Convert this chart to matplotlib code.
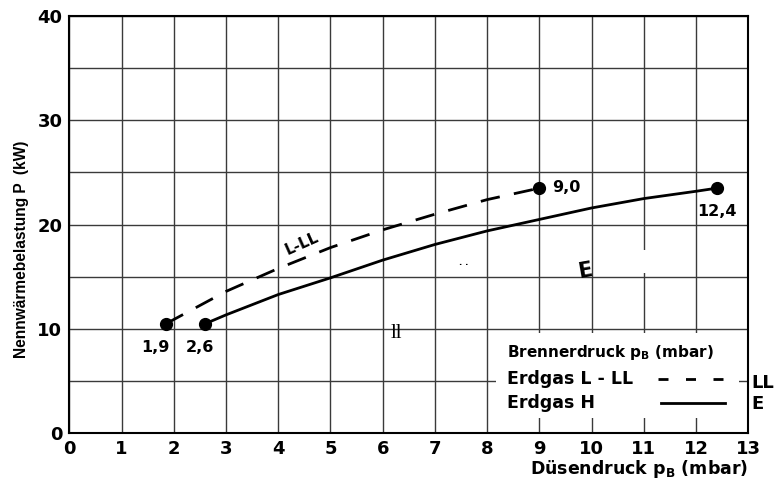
import matplotlib
matplotlib.use('Agg')
import matplotlib.pyplot as plt
import matplotlib.patches as patches

# Erdgas L - LL (dashed) and Erdgas H (solid), nozzle pressure vs. heat load
ll_p = [1.85, 3, 4, 5, 6, 7, 8, 9.0]
ll_P = [10.5, 13.6, 15.8, 17.8, 19.5, 21.0, 22.4, 23.5]
h_p = [2.6, 3, 4, 5, 6, 7, 8, 9, 10, 11, 12, 12.4]
h_P = [10.5, 11.35, 13.3, 14.9, 16.6, 18.1, 19.4, 20.5, 21.6, 22.5, 23.2, 23.5]
ll_labels = ['1,9', '9,0']
h_labels = ['2,6', '12,4']
x_ticks = list(range(0, 14))
y_ticks = [0, 10, 20, 30, 40]
y_minor = [5, 15, 25, 35]

plt.rcParams['font.family'] = ['DejaVu Sans']
plt.rcParams['font.weight'] = 'bold'
plt.rcParams['mathtext.fontset'] = 'custom'
plt.rcParams['mathtext.rm'] = 'DejaVu Sans:bold'

W, H = 778, 483
fig = plt.figure(figsize=(W / 100, H / 100), dpi=100)
ax = fig.add_axes([69.3 / W, 1 - 433.3 / H, 679 / W, 417.3 / H])
ax.set_xlim(0, 13)
ax.set_ylim(0, 40)
ax.set_xticks(x_ticks)
ax.set_yticks(y_ticks)
ax.set_yticks(y_minor, minor=True)
ax.tick_params(which='both', length=0, labelsize=13, pad=5)
ax.grid(True, which='both', color='#3a3a3a', lw=1.0)
ax.set_axisbelow(True)
for s in ax.spines.values():
    s.set_linewidth(1.5)
    s.set_color('black')

# white patch in lower right (legend area) hiding inner grid lines
ax.add_patch(patches.Rectangle((8.16, 1.44), 12.83 - 8.16, 9.59 - 1.44,
                               facecolor='white', edgecolor='none', zorder=1.5))
# small scan gap on grid line x=11
ax.add_patch(patches.Rectangle((10.95, 15.4), 0.12, 2.2,
                               facecolor='white', edgecolor='none', zorder=1.5))

ax.plot(ll_p, ll_P, color='black', lw=2.0, dashes=(7, 5.2), zorder=3)
ax.plot(h_p, h_P, color='black', lw=2.0, zorder=3)
ax.plot([ll_p[0], ll_p[-1]], [ll_P[0], ll_P[-1]], 'o', color='black', ms=8.5, zorder=4)
ax.plot([h_p[0], h_p[-1]], [h_P[0], h_P[-1]], 'o', color='black', ms=8.5, zorder=4)

# point labels
ax.text(ll_p[0] - 0.21, ll_P[0] - 2.25, ll_labels[0], ha='center', va='center', fontsize=11.5)
ax.text(h_p[0] - 0.1, h_P[0] - 2.25, h_labels[0], ha='center', va='center', fontsize=11.5)
ax.text(ll_p[-1] + 0.51, ll_P[-1] + 0.05, ll_labels[1], ha='center', va='center', fontsize=11.5)
ax.text(h_p[-1], h_P[-1] - 2.2, h_labels[1], ha='center', va='center', fontsize=11.5)

# curve annotations
ax.text(4.46, 18.2, 'L-LL', ha='center', va='center', fontsize=11, rotation=24)
ax.text(9.88, 15.6, 'E', ha='center', va='center', fontsize=15, rotation=10)
ax.text(6.26, 9.55, 'll', ha='center', va='center', fontsize=15,
        family='Liberation Serif', fontweight='normal')
ax.text(7.55, 16.4, '. .', ha='center', va='center', fontsize=6)

# legend block
ax.text(8.38, 7.7, r'Brennerdruck p$_\mathrm{B}$ (mbar)', ha='left', va='center', fontsize=11)
ax.text(8.38, 5.2, 'Erdgas L - LL', ha='left', va='center', fontsize=12.5)
ax.text(8.38, 2.9, 'Erdgas H', ha='left', va='center', fontsize=12.5)
ax.plot([11.28, 12.56], [5.2, 5.2], color='black', lw=2.0, dashes=(3.6, 6.3))
ax.plot([11.33, 12.56], [2.9, 2.9], color='black', lw=2.0)
ax.text(13.05, 4.8, 'LL', ha='left', va='center', fontsize=13, clip_on=False)
ax.text(13.05, 2.8, 'E', ha='left', va='center', fontsize=13, clip_on=False)

# axis labels
fig.text(748 / W, 1 - 469 / H, r'Düsendruck p$_\mathrm{B}$ (mbar)', ha='right', va='center', fontsize=12.5)
fig.text(22 / W, 1 - 249 / H, 'Nennwärmebelastung P  (kW)', ha='center', va='center',
         rotation=90, fontsize=11.2, family=['Liberation Sans Narrow', 'Liberation Sans'])

fig.savefig('out.png', dpi=100)
